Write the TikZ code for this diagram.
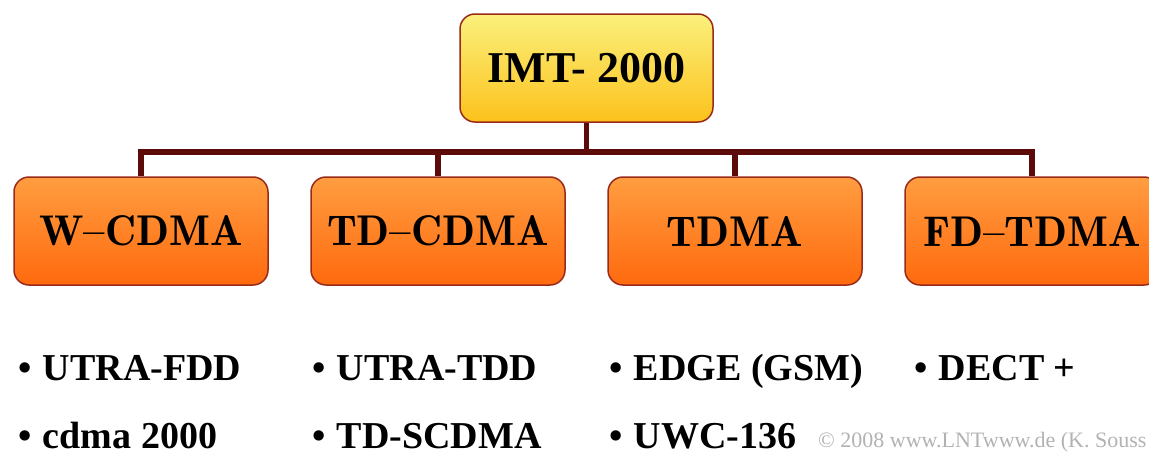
\documentclass[tikz,border=0pt]{standalone}
\usepackage{fontspec}
\newfontfamily\tms{Liberation Serif}
\definecolor{linec}{HTML}{5C0A0A}
\definecolor{borderc}{HTML}{9A2A1A}
\definecolor{ytop}{HTML}{FBF07C}
\definecolor{ybot}{HTML}{FCC21C}
\definecolor{otop}{HTML}{FF9D40}
\definecolor{obot}{HTML}{FF6A0E}
\tikzset{
  x=1pt, y=-1pt,
  topbox/.style={draw=borderc, line width=1.5pt, rounded corners=15pt, minimum width=253pt, minimum height=108pt, top color=ytop, bottom color=ybot, inner sep=0pt, font=\tms\bfseries\fontsize{44}{50}\selectfont},
  childbox/.style={draw=borderc, line width=1.5pt, rounded corners=15pt, minimum width=254pt, minimum height=108pt, top color=otop, bottom color=obot, inner sep=0pt, font=\fontseries{b}\fontsize{43}{48}\selectfont},
  conn/.style={draw=linec, line width=5.5pt},
  item/.style={anchor=base west, inner sep=0pt, font=\tms\bfseries\fontsize{38}{44}\selectfont},
}
\newcommand{\bul}{•\hspace{0.3em}}
\begin{document}
\begin{tikzpicture}
\useasboundingbox (0,0) rectangle (1149,455);
\clip (0,0) rectangle (1149,455);
\node[topbox] (top) at (586.5,68) {IMT- 2000};
\node[childbox] (c1) at (141,231) {W--CDMA};
\node[childbox] (c2) at (438,231) {TD--CDMA};
\node[childbox] (c3) at (735,231) {TDMA};
\node[childbox] (c4) at (1032,231) {FD--TDMA};
\coordinate (bus) at (586.5,152);
\coordinate (b1) at (141,152);
\coordinate (b4) at (1032,152);
\draw[conn] (top.south) -- (bus);
\draw[conn, line cap=rect] (b1) -- (b4);
\draw[conn] (b1) -- (c1.north);
\draw[conn] (c2.north |- bus) -- (c2.north);
\draw[conn] (c3.north |- bus) -- (c3.north);
\draw[conn] (b4) -- (c4.north);
\node[item] (i11) at (18,380) {\bul UTRA-FDD};
\node[item] (i12) at (18,448) {\bul cdma 2000};
\node[item] (i21) at (312,380) {\bul UTRA-TDD};
\node[item] (i22) at (312,448) {\bul TD-SCDMA};
\node[item] (i31) at (609,380) {\bul EDGE (GSM)};
\node[item] (i32) at (609,448) {\bul UWC-136};
\node[item] (i41) at (914,380) {\bul DECT +};
\node[anchor=base west, inner sep=0pt, text=black!30, font=\tms\fontsize{22}{24}\selectfont] (copy) at (818,447) {© 2008 www.LNTwww.de (K. Souss};
\end{tikzpicture}
\end{document}
